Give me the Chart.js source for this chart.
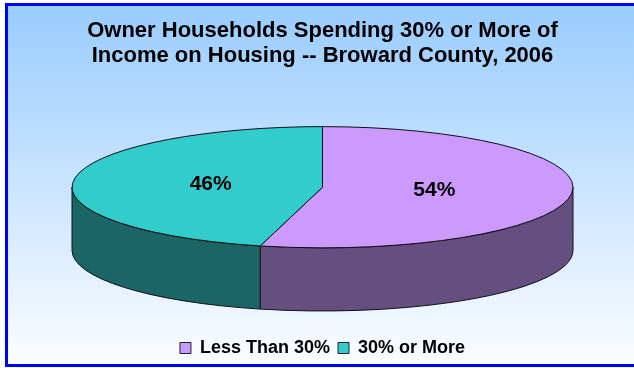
<!DOCTYPE html>
<html>
<head>
<meta charset="utf-8">
<title>Owner Households Spending 30% or More of Income on Housing</title>
<script src="https://cdn.jsdelivr.net/npm/chart.js@4.4.1/dist/chart.umd.min.js"></script>
<style>
  html, body { margin: 0; padding: 0; background: #fff; overflow: hidden; }
  #wrap { width: 634px; height: 368px; }
</style>
</head>
<body>
<div id="wrap"><canvas id="pie" width="634" height="368"></canvas></div>
<script>
  // ── Data ───────────────────────────────────────────────────
  const LABELS = ['Less Than 30%', '30% or More'];
  const SHARES = [54, 46];
  const TITLE_LINES = ['Owner Households Spending 30% or More of', 'Income on Housing -- Broward County, 2006'];

  // ── Look ───────────────────────────────────────────────────
  const TOP_COLORS = ['#cc99ff', '#33cccc'];
  const SIDE_COLORS = ['#654f80', '#1b6566'];
  const TILT = 0.242;      // ry / rx of the top face
  const DEPTH = 0.252;     // wall height / rx
  const LABEL_POS = 0.45;  // label distance along the radius
  const FONT = '"Liberation Sans", Arial, sans-serif';

  Chart.defaults.font.family = FONT;

  // background gradient and the blue frame, as in the Excel original
  var frame = {
    id: 'frame',
    beforeDraw: function (chart) {
      var ctx = chart.ctx;
      ctx.save();
      ctx.fillStyle = '#ffffff';
      ctx.fillRect(0, 0, chart.width, chart.height);
      var g = ctx.createLinearGradient(0, 6, 0, 364);
      g.addColorStop(0, '#99ccff');
      g.addColorStop(1, '#fbfdff');
      ctx.fillStyle = g;
      ctx.fillRect(8, 6, chart.width - 8, 358);
      ctx.fillStyle = '#0000ff';
      ctx.fillRect(5, 3, chart.width - 5, 3);
      ctx.fillRect(5, 3, 3, 364);
      ctx.fillRect(5, 364, chart.width - 5, 3);
      ctx.restore();
    }
  };

  // flat pie arcs re-drawn as a tilted disc with walls
  var pie3d = {
    id: 'pie3d',
    geometry: function (chart) {
      var area = chart.chartArea;
      var arcs = chart.getDatasetMeta(0).data;
      var rx = (area.right - area.left) / 2;
      var depth = rx * DEPTH;
      return { arcs: arcs, rx: rx, ry: rx * TILT, depth: depth, cx: arcs[0].x, cy: arcs[0].y - depth / 2 };
    },
    beforeDatasetsDraw: function (chart) {
      var g = this.geometry(chart);
      var ctx = chart.ctx;
      ctx.save();
      ctx.lineWidth = 1;
      ctx.strokeStyle = '#111';
      ctx.lineJoin = 'round';

      // walls (only the front half is visible)
      g.arcs.forEach(function (arc, i) {
        var a = Math.max(arc.startAngle, 0);
        var b = Math.min(arc.endAngle, Math.PI);
        if (b <= a) return;
        ctx.beginPath();
        ctx.ellipse(g.cx, g.cy, g.rx, g.ry, 0, a, b);
        ctx.lineTo(g.cx + g.rx * Math.cos(b), g.cy + g.ry * Math.sin(b) + g.depth);
        ctx.ellipse(g.cx, g.cy + g.depth, g.rx, g.ry, 0, b, a, true);
        ctx.closePath();
        ctx.fillStyle = SIDE_COLORS[i];
        ctx.fill();
        ctx.stroke();
      });

      // top face
      g.arcs.forEach(function (arc, i) {
        ctx.beginPath();
        ctx.moveTo(g.cx, g.cy);
        ctx.ellipse(g.cx, g.cy, g.rx, g.ry, 0, arc.startAngle, arc.endAngle);
        ctx.closePath();
        ctx.fillStyle = TOP_COLORS[i];
        ctx.fill();
        ctx.stroke();
      });
      ctx.restore();
      return false;
    },
    afterDraw: function (chart) {
      var g = this.geometry(chart);
      var ctx = chart.ctx;
      ctx.save();
      ctx.font = 'bold 21px ' + FONT;
      ctx.fillStyle = '#000';
      ctx.textAlign = 'center';
      ctx.textBaseline = 'middle';
      g.arcs.forEach(function (arc, i) {
        var mid = (arc.startAngle + arc.endAngle) / 2;
        var x = g.cx + Math.cos(mid) * g.rx * LABEL_POS;
        var y = g.cy + Math.sin(mid) * g.ry * LABEL_POS;
        ctx.fillText(SHARES[i] + '%', x, y);
      });
      ctx.restore();
    }
  };

  new Chart(document.getElementById('pie'), {
    type: 'pie',
    data: {
      labels: LABELS,
      datasets: [{
        data: SHARES,
        backgroundColor: TOP_COLORS,
        borderColor: '#222',
        borderWidth: 1
      }]
    },
    options: {
      responsive: false,
      animation: false,
      layout: { padding: { left: 72, right: 61, top: 0, bottom: 1 } },
      plugins: {
        title: {
          display: true,
          text: TITLE_LINES,
          color: '#000',
          font: { size: 22, weight: 'bold', lineHeight: 1.15 },
          padding: { top: 18, bottom: 38 }
        },
        legend: {
          position: 'bottom',
          labels: {
            color: '#000',
            font: { size: 18, weight: 'bold' },
            boxWidth: 11,
            boxHeight: 11,
            padding: 8
          }
        },
        tooltip: { enabled: false }
      }
    },
    plugins: [frame, pie3d]
  });
</script>
</body>
</html>
